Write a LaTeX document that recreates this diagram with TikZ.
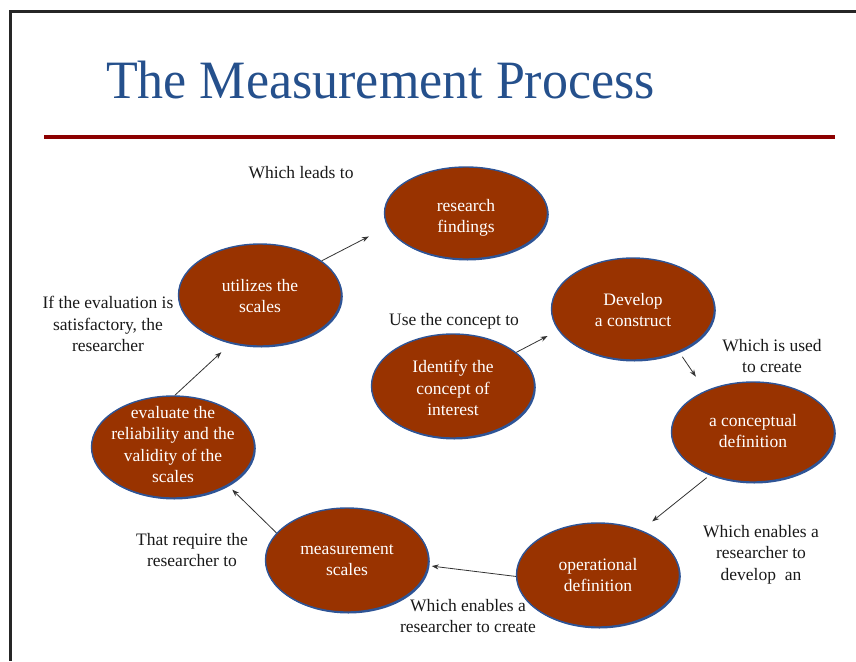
\documentclass[tikz,border=0pt]{standalone}
\usepackage{fontspec}
\usepackage{graphicx}
\setmainfont{Liberation Serif}
\usetikzlibrary{shapes.geometric,arrows.meta}
\definecolor{rust}{RGB}{153,51,0}
\definecolor{rim}{RGB}{46,84,150}
\definecolor{titleblue}{RGB}{37,80,140}
\definecolor{rulered}{RGB}{140,0,0}
\begin{document}
\begin{tikzpicture}[x=1pt,y=-1pt,
  blob/.style={ellipse, fill=rust, draw=rim, line width=1.4pt, minimum width=163pt, minimum height=102pt, inner sep=0pt,
    preaction={fill=rim, transform canvas={shift={(1.3pt,-1.5pt)}}}},
  txt/.style={font=\fontsize{17.5}{21.5}\selectfont, align=center, anchor=north, inner sep=0pt, execute at begin node=\strut},
  intext/.style={txt, text=white},
  note/.style={txt, text=black!90},
  link/.style={draw=black!80, line width=0.8pt, -{Stealth[length=7pt,width=5pt]}}]
\useasboundingbox (0,0) rectangle (856,661);
% frame
\draw[line width=2.7pt, draw=black!85] (856,11.3) -- (10.3,11.3) -- (10.3,661);
% title and rule
\node[anchor=base, text=titleblue, font=\fontsize{54}{60}\selectfont, inner sep=0pt] (title) at (380.5,98) {\scalebox{0.963}[1]{The Measurement Process}};
\fill[rulered] (44,134.5) rectangle (835,138.5);
% ellipses
\node[blob, minimum height=92pt] (rf) at (466,213) {};
\node[blob] (ut) at (260,295) {};
\node[blob, minimum height=104pt] (id) at (453,386) {};
\node[blob] (dc) at (633,309) {};
\node[blob, minimum height=100pt] (cd) at (753,432) {};
\node[blob] (ev) at (173,447) {};
\node[blob, minimum height=104pt] (ms) at (347,560) {};
\node[blob, minimum height=104pt] (od) at (598,575) {};
% ellipse texts
\node[intext] (rft) at (466,199) {research\\findings};
\node[intext] (utt) at (260,279) {utilizes the\\scales};
\node[intext] (idt) at (453,360) {Identify the\\concept of\\interest};
\node[intext] (dct) at (633,293) {Develop\\a construct};
\node[intext] (cdt) at (753,414) {a conceptual\\definition};
\node[intext] (evt) at (173,406) {evaluate the\\reliability and the\\validity of the\\scales};
\node[intext] (mst) at (347,544) {measurement\\scales};
\node[intext] (odt) at (598,558) {operational\\definition};
% labels
\node[note] (l1) at (301,163) {Which leads to};
\node[note] (l2) at (108,296) {If the evaluation is\\satisfactory, the\\researcher};
\node[note] (l3) at (454,310) {Use the concept to};
\node[note] (l4) at (772,339) {Which is used\\to create};
\node[note] (l5) at (761,525) {Which enables a\\researcher to\\develop\ \ an};
\node[note] (l6) at (192,533) {That require the\\researcher to};
\node[note] (l7) at (468,599) {Which enables a\\researcher to create};
% connectors
\draw[link, shorten >=21pt] (ut.29) -- (rf.190);
\draw[link, shorten >=12pt] (id.28) -- (dc.196.5);
\draw[link, shorten <=6pt, shorten >=17pt] (dc.317) -- (cd.139);
\draw[link, shorten <=4pt, shorten >=14pt] (cd.225) -- (od.46);
\draw[link, shorten >=3pt] (od.181) -- (ms.356);
\draw[link, shorten >=6pt] (ms.159) -- (ev.325);
\draw[link, shorten >=13pt] (ev.88) -- (ut.239);
\end{tikzpicture}
\end{document}
